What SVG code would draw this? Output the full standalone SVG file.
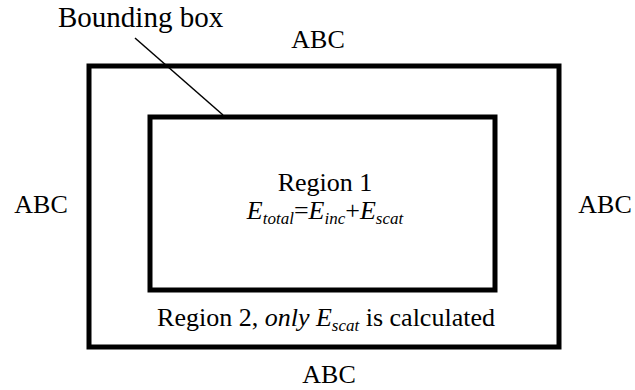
<svg xmlns="http://www.w3.org/2000/svg" width="635" height="390" viewBox="0 0 635 390">
<style>
text{font-family:"Liberation Serif","Times New Roman",serif;font-size:26px;fill:#000}
.box{fill:none;stroke:#000;stroke-width:5}
.it{font-style:italic}
.sub{font-size:17px;font-style:italic}
</style>
<rect width="635" height="390" fill="#fff"/>
<g id="outer"><rect class="box" x="89" y="66" width="470" height="281"/></g>
<g id="inner"><rect class="box" x="150" y="117" width="345" height="173"/></g>
<g id="connectors"><line x1="135" y1="38" x2="223" y2="115" stroke="#000" stroke-width="1.5"/></g>
<g id="labels">
<text x="58" y="27" style="font-size:29px">Bounding box</text>
<text x="318" y="48" text-anchor="middle">ABC</text>
<text x="329" y="383" text-anchor="middle">ABC</text>
<text x="41" y="213" text-anchor="middle">ABC</text>
<text x="605" y="213" text-anchor="middle">ABC</text>
<text x="325" y="191" text-anchor="middle">Region 1</text>
<text x="325" y="219" text-anchor="middle"><tspan class="it">E</tspan><tspan class="sub" dy="5">total</tspan><tspan dy="-5">=</tspan><tspan class="it">E</tspan><tspan class="sub" dy="5">inc</tspan><tspan dy="-5">+</tspan><tspan class="it">E</tspan><tspan class="sub" dy="5">scat</tspan></text>
<text x="326" y="326" text-anchor="middle">Region 2, <tspan class="it">only E</tspan><tspan class="sub" dy="5">scat</tspan><tspan dy="-5"> is calculated</tspan></text>
</g>
</svg>
